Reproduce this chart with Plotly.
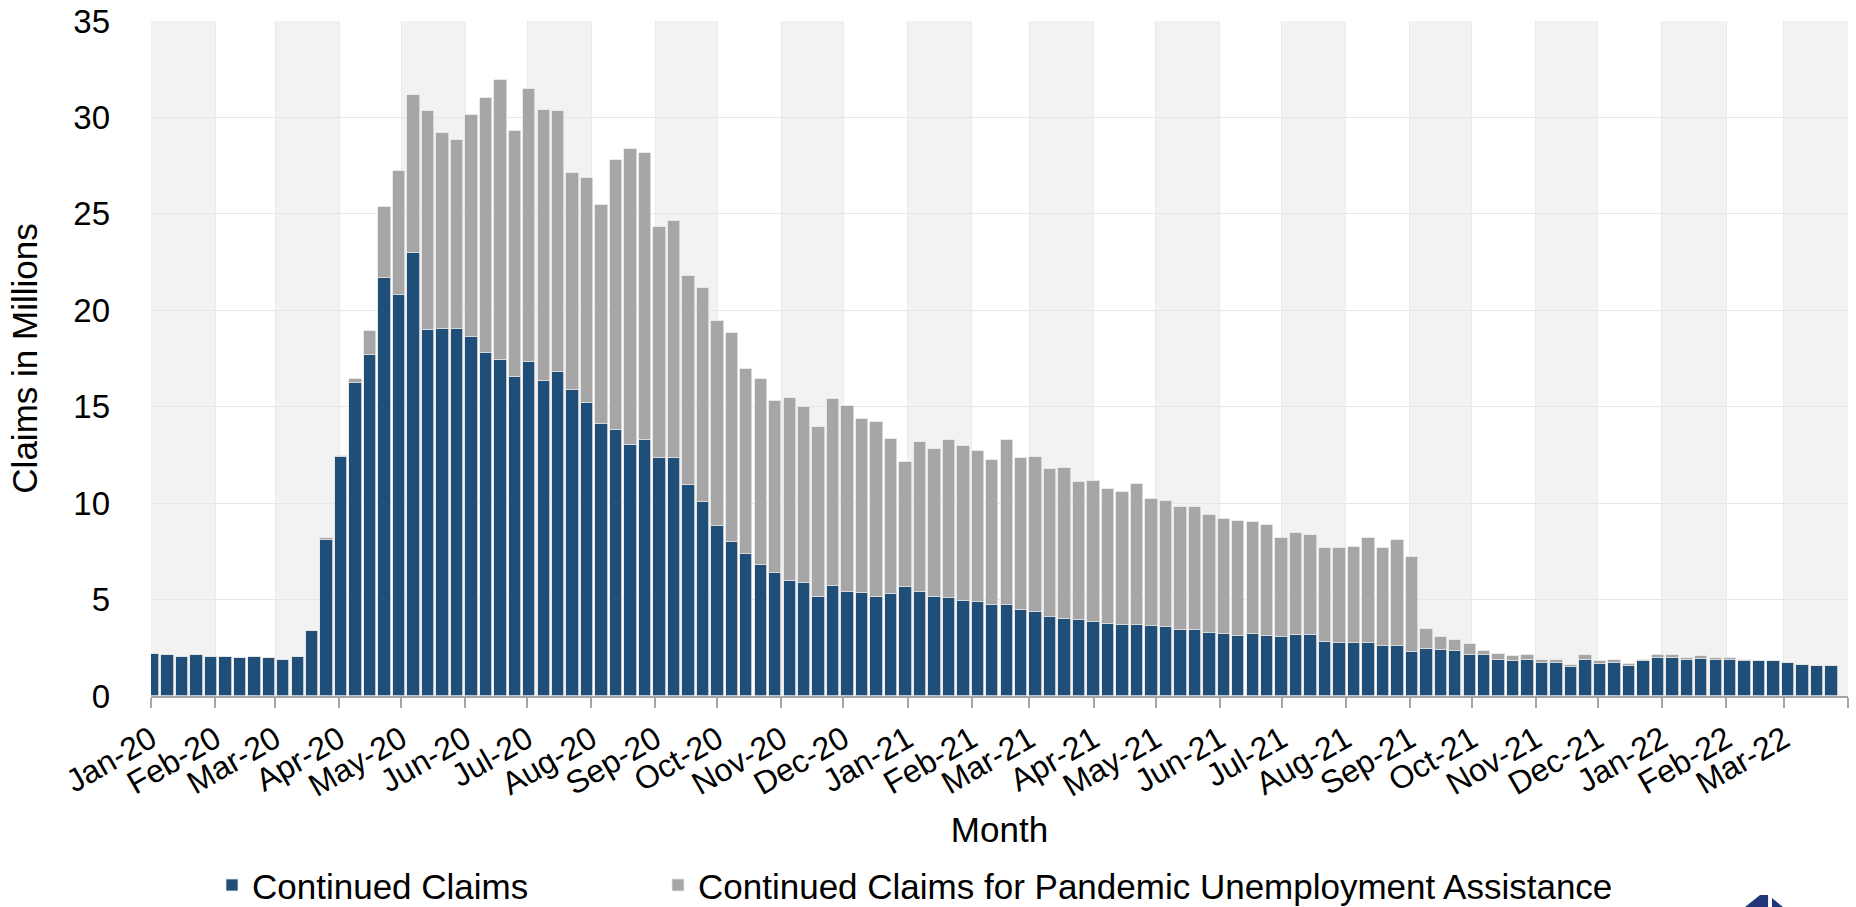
import pandas as pd
import plotly.graph_objects as go

# ---- data (millions of claims, weekly) ----
first_week = "2020-01-02"
continued_claims = [
    2.20, 2.11, 2.01, 2.11, 2.03, 2.03, 1.99, 2.03, 1.96, 1.89, 2.01, 3.35,
    8.11, 12.39, 16.22, 17.70, 21.70, 20.81, 22.99, 19.00, 19.04, 19.04, 18.61, 17.78,
    17.44, 16.53, 17.32, 16.32, 16.79, 15.86, 15.19, 14.09, 13.78, 13.04, 13.25, 12.34,
    12.32, 10.96, 10.07, 8.83, 7.99, 7.37, 6.77, 6.36, 5.96, 5.84, 5.12, 5.69,
    5.38, 5.33, 5.12, 5.29, 5.65, 5.38, 5.12, 5.07, 4.95, 4.86, 4.71, 4.71,
    4.45, 4.38, 4.11, 3.97, 3.92, 3.83, 3.73, 3.68, 3.68, 3.61, 3.59, 3.42,
    3.42, 3.25, 3.23, 3.13, 3.21, 3.13, 3.04, 3.18, 3.18, 2.82, 2.75, 2.75,
    2.73, 2.58, 2.58, 2.27, 2.42, 2.39, 2.32, 2.15, 2.11, 1.89, 1.79, 1.87,
    1.70, 1.72, 1.51, 1.89, 1.65, 1.72, 1.58, 1.82, 1.96, 1.96, 1.89, 1.94,
    1.89, 1.89, 1.84, 1.79, 1.82, 1.72, 1.63, 1.56, 1.56,
]
pua_claims = [
    0, 0, 0, 0, 0, 0, 0, 0, 0, 0, 0, 0,
    0.07, 0.07, 0.22, 1.22, 3.66, 6.39, 8.16, 11.31, 10.15, 9.79, 11.51, 13.25,
    14.50, 12.75, 14.14, 14.04, 13.52, 11.25, 11.68, 11.36, 14.00, 15.31, 14.93, 11.99,
    12.30, 10.81, 11.10, 10.62, 10.84, 9.57, 9.67, 8.93, 9.49, 9.16, 8.85, 9.69,
    9.67, 9.05, 9.11, 8.06, 6.48, 7.78, 7.68, 8.21, 7.99, 7.82, 7.54, 8.59,
    7.89, 8.01, 7.64, 7.85, 7.18, 7.32, 6.99, 6.89, 7.30, 6.63, 6.53, 6.36,
    6.39, 6.15, 5.96, 5.96, 5.83, 5.75, 5.17, 5.26, 5.15, 4.86, 4.93, 4.98,
    5.45, 5.12, 5.51, 4.93, 1.07, 0.65, 0.57, 0.55, 0.23, 0.31, 0.27, 0.24,
    0.19, 0.17, 0.09, 0.22, 0.14, 0.15, 0.07, 0.05, 0.15, 0.15, 0.10, 0.12,
    0.10, 0.07, 0.05, 0, 0, 0, 0, 0, 0,
]
month_labels = [
    "Jan-20", "Feb-20", "Mar-20", "Apr-20", "May-20", "Jun-20", "Jul-20", "Aug-20", "Sep-20",
    "Oct-20", "Nov-20", "Dec-20", "Jan-21", "Feb-21", "Mar-21", "Apr-21", "May-21", "Jun-21",
    "Jul-21", "Aug-21", "Sep-21", "Oct-21", "Nov-21", "Dec-21", "Jan-22", "Feb-22", "Mar-22",
]
series_names = ["Continued Claims", "Continued Claims for Pandemic Unemployment Assistance"]
series_colors = ["#1F4E79", "#A6A6A6"]

weeks = pd.date_range(first_week, periods=len(continued_claims), freq="7D")
month_starts = pd.date_range("2020-01-01", periods=len(month_labels) + 1, freq="MS")
x_range = [month_starts[0], month_starts[-1]]

FONT = "Arial, 'Liberation Sans', sans-serif"
bar_width_ms = 6 * 24 * 3600 * 1000

fig = go.Figure()
for name, vals, col, leg in zip(series_names, [continued_claims, pua_claims],
                                series_colors, ["legend", "legend2"]):
    fig.add_trace(go.Bar(
        x=weeks, y=vals, name=name, width=bar_width_ms, legend=leg,
        marker=dict(color=col, line=dict(color="#E4E4E4", width=0.8)),
    ))

# alternating month bands
for i in range(0, len(month_labels), 2):
    fig.add_shape(type="rect", xref="x", yref="paper",
                  x0=month_starts[i], x1=month_starts[i + 1], y0=0, y1=1,
                  fillcolor="#F2F2F2", line=dict(width=0), layer="below")

tickvals = list(month_starts)
ticktext = month_labels + [""]

legend_common = dict(orientation="h", yref="container", y=0.024, yanchor="middle",
                     xref="container", xanchor="left",
                     font=dict(size=35, family=FONT), bgcolor="rgba(0,0,0,0)")

fig.update_layout(
    width=1856, height=907,
    margin=dict(l=151, r=8, t=21, b=211, autoexpand=False),
    paper_bgcolor="white", plot_bgcolor="white",
    barmode="stack", bargap=0,
    font=dict(family=FONT, color="black", size=33),
    showlegend=True,
    legend=dict(x=212 / 1856, **legend_common),
    legend2=dict(x=658 / 1856, **legend_common),
    xaxis=dict(
        type="date", range=x_range, tickmode="array", tickvals=tickvals, ticktext=ticktext,
        tickangle=-30, tickfont=dict(size=32), automargin=False,
        showline=True, linecolor="#A6A6A6", linewidth=2,
        ticks="outside", ticklen=10, tickwidth=2, tickcolor="#A6A6A6",
        showgrid=True, gridcolor="#EAEAEA", gridwidth=1, zeroline=False,
        title=dict(text="Month", font=dict(size=35), standoff=15),
    ),
    xaxis2=dict(
        type="date", range=x_range, overlaying="x", side="bottom", tickmode="array",
        tickvals=tickvals, showticklabels=False, ticks="inside", ticklen=10, tickwidth=2,
        tickcolor="#A6A6A6", showgrid=False, zeroline=False, showline=False, automargin=False,
    ),
    yaxis=dict(
        range=[0, 35], tickvals=[0, 5, 10, 15, 20, 25, 30, 35], automargin=False,
        showgrid=True, gridcolor="#E6E6E6", gridwidth=1, zeroline=False, showline=False,
        ticks="", ticklabelstandoff=40, tickfont=dict(size=33),
        title=dict(text="Claims in Millions", font=dict(size=35), standoff=25),
    ),
)

# partial logo at bottom-right corner (cut off by the figure edge)
fig.add_shape(type="path", xref="paper", yref="paper",
              path="M 0.9393 -0.34 L 0.9393 -0.3126 L 0.9482 -0.2948 L 0.9529 -0.2948 L 0.9529 -0.34 Z",
              fillcolor="#22367A", line=dict(width=0))
fig.add_shape(type="path", xref="paper", yref="paper",
              path="M 0.9552 -0.2993 L 0.9617 -0.3126 L 0.9617 -0.34 L 0.9552 -0.34 Z",
              fillcolor="#22367A", line=dict(width=0))

fig.write_html(
    "out.html",
    config={"displayModeBar": False},
    post_script="document.body.style.margin='0px';document.body.style.overflow='hidden';",
)
